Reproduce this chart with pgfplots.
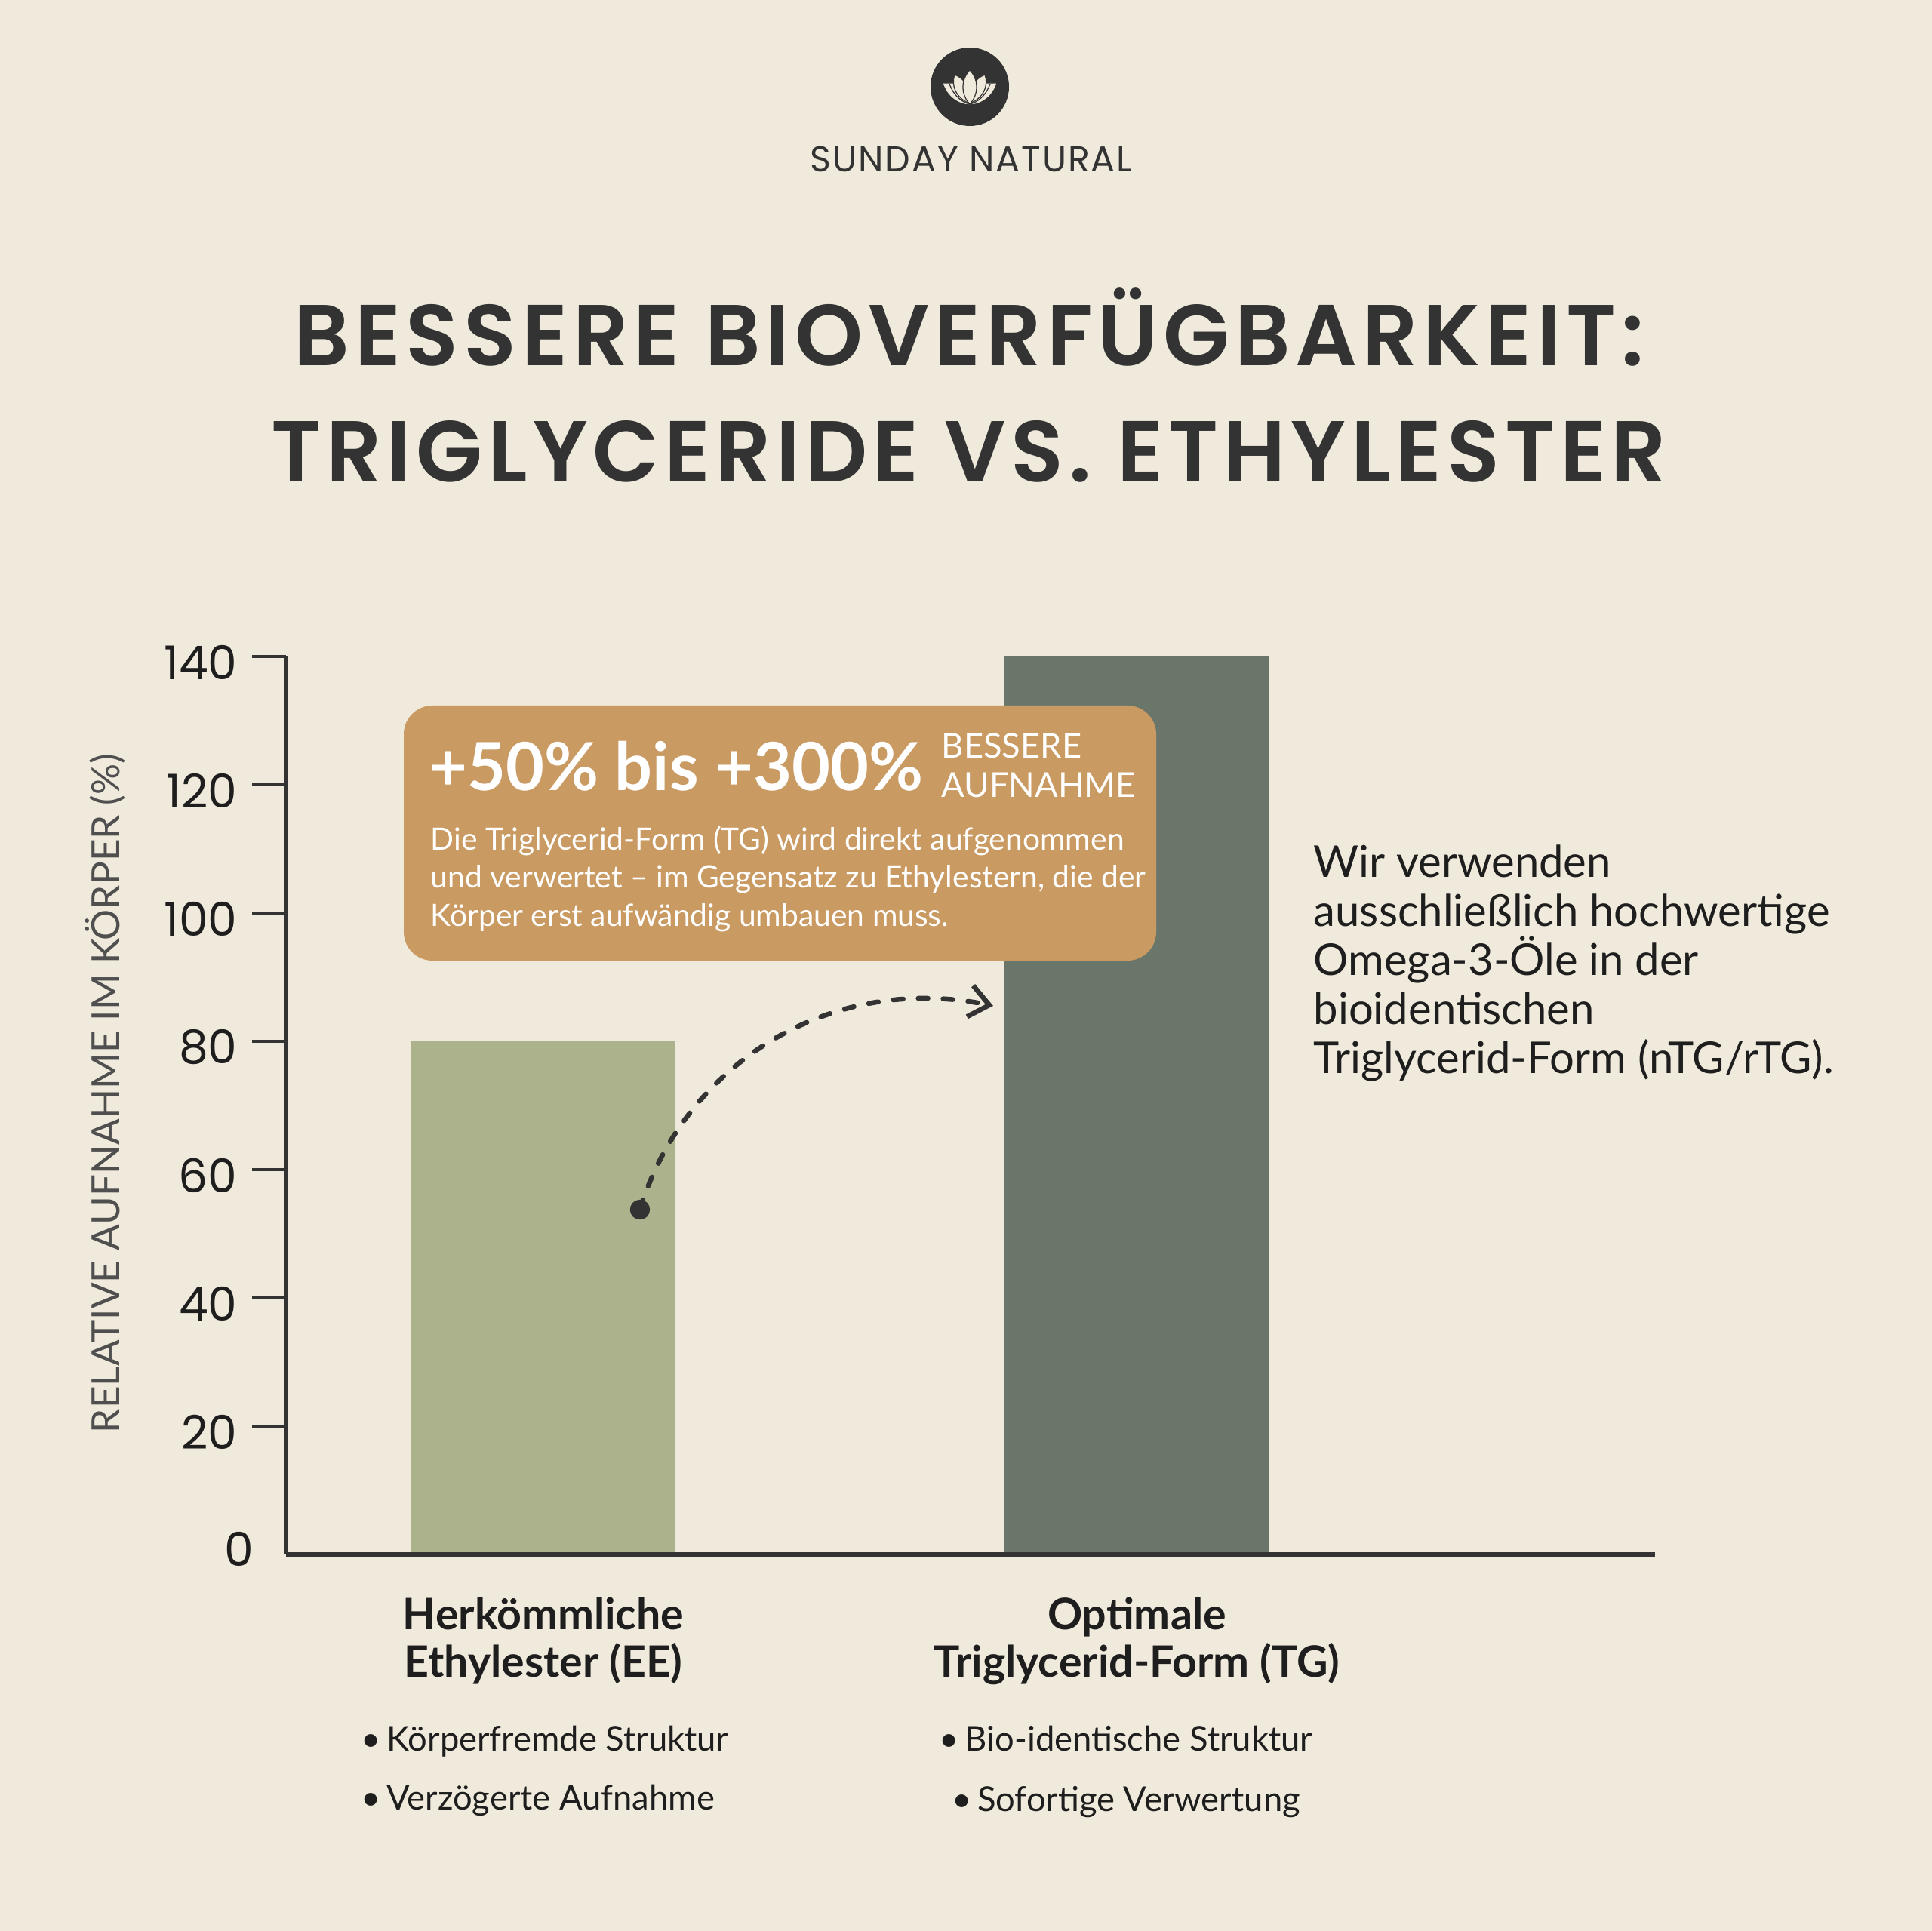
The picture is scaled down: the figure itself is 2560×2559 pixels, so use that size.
\documentclass[border=0pt]{standalone}
\usepackage{fontspec}
\usepackage{pgfplots}
\pgfplotsset{compat=1.18}
\usetikzlibrary{arrows.meta}
\setmainfont{Lato}
\newfontfamily\pop{Poppins}
\newfontfamily\popL[LetterSpace=4]{Poppins}
\newfontfamily\popT[LetterSpace=6]{Poppins SemiBold}

\definecolor{bg}{HTML}{F0EADC}
\definecolor{dark}{HTML}{333333}
\definecolor{txt}{HTML}{1E1E1E}
\definecolor{ee}{HTML}{ABB28C}
\definecolor{tg}{HTML}{6B766B}
\definecolor{callout}{HTML}{C99A62}
\definecolor{ylab}{HTML}{4F4F4F}

\begin{document}
\begin{tikzpicture}
\begin{scope}[x=0.1mm,y=-0.1mm]
\fill[bg] (0,0) rectangle (2560,2559);
\path[use as bounding box] (0,0) rectangle (2560,2559);
% logo
\fill[dark] (1285,115) circle[radius=52];
\begin{scope}[line width=0.35pt]
\filldraw[fill=bg, draw=dark] (1249,110) -- (1321,110) .. controls (1316,128) and (1300,139) .. (1285,139) .. controls (1270,139) and (1254,128) .. (1249,110) -- cycle;
\filldraw[fill=bg, draw=dark] (1285,137) .. controls (1266,130) and (1260,112) .. (1265,99) .. controls (1278,104) and (1286,116) .. (1285,137) -- cycle;
\filldraw[fill=bg, draw=dark] (1285,137) .. controls (1304,130) and (1310,112) .. (1305,99) .. controls (1292,104) and (1284,116) .. (1285,137) -- cycle;
\filldraw[fill=bg, draw=dark] (1285,138) .. controls (1272,124) and (1274,104) .. (1285,93) .. controls (1296,104) and (1298,124) .. (1285,138) -- cycle;
\draw[dark] (1258,111) .. controls (1264,128) and (1276,136) .. (1285,138);
\draw[dark] (1312,111) .. controls (1306,128) and (1294,136) .. (1285,138);
\end{scope}
\node[anchor=base, inner sep=0, font=\popL\fontsize{13.5}{16}\selectfont, text=dark] at (1287,228) {SUNDAY NATURAL};
% title
\node[anchor=base, inner sep=0, font=\popT\fontsize{32.6}{38}\selectfont, text=dark] at (1284,485) {BESSERE BIOVERFÜGBARKEIT:};
\node[anchor=base, inner sep=0, font=\popT\fontsize{32.6}{38}\selectfont, text=dark] at (1284,639) {TRIGLYCERIDE VS. ETHYLESTER};
% y label
\node[rotate=90, inner sep=0, font=\fontsize{14.6}{17}\selectfont, text=ylab] at (139,1449) {RELATIVE AUFNAHME IM KÖRPER (\%)};
\end{scope}

\begin{axis}[
  at={(37.9mm,-206mm)}, anchor=south west,
  scale only axis, width=181.4mm, height=119mm,
  xmin=0.5664, xmax=2.8729, ymin=0, ymax=140,
  axis x line=bottom, axis y line=left,
  axis line style={-, line width=1.85pt, draw=dark},
  axis on top=true,
  clip=false,
  xtick={1,2},
  xticklabels={{Herkömmliche\\Ethylester (EE)},{Optimale\\Triglycerid-Form (TG)}},
  x tick label style={align=center, font=\bfseries\fontsize{16.3}{17.9}\selectfont, text=txt, anchor=north},
  ytick={20,40,...,140},
  extra y ticks={0},
  extra y tick style={y tick style={draw=none}, tick label style={xshift=2.2mm, yshift=1.5mm}},
  tick align=outside,
  major tick length=4.5mm,
  x tick style={draw=none},
  y tick style={line width=1.4pt, draw=dark},
  y tick label style={font=\pop\fontsize{17.5}{20}\selectfont, text=txt, xshift=-0.7mm, yshift=-0.8mm},
  /pgf/number format/assume math mode=true,
]
\addplot[ybar, bar width=35mm, bar shift=0pt, fill=ee, draw=none] coordinates {(1,80)};
\addplot[ybar, bar width=35mm, bar shift=0pt, fill=tg, draw=none] coordinates {(2,140)};
\draw[dark, line width=0.65mm, dash pattern=on 1.3mm off 2mm, line cap=round,
  -{Straight Barb[length=2.6mm,width=4.2mm]}]
  (axis cs:1.1627,53.76) .. controls (axis cs:1.2365,76.35) and (axis cs:1.4832,90.71) .. (axis cs:1.7578,85.53);
\addplot[only marks, mark=*, mark size=1.25mm, mark options={fill=dark, draw=dark}] coordinates {(1.1627,53.76)};
\end{axis}

\begin{scope}[x=0.1mm,y=-0.1mm]
\fill[callout, rounded corners=3.8mm] (535,935) rectangle (1532,1273);
\node[anchor=base west, inner sep=0, text=white, font=\bfseries\fontsize{25}{30}\selectfont] at (568,1048) {+50\% bis +300\%};
\node[anchor=base west, inner sep=0, text=white, font=\fontsize{12.9}{15}\selectfont] at (1247,1005) {BESSERE};
\node[anchor=base west, inner sep=0, text=white, font=\fontsize{12.9}{15}\selectfont] at (1247,1057) {AUFNAHME};
\node[anchor=base west, inner sep=0, text=white, font=\fontsize{11.6}{13}\selectfont] at (570,1127) {Die Triglycerid-Form (TG) wird direkt aufgenommen};
\node[anchor=base west, inner sep=0, text=white, font=\fontsize{11.6}{13}\selectfont] at (570,1177) {und verwertet – im Gegensatz zu Ethylestern, die der};
\node[anchor=base west, inner sep=0, text=white, font=\fontsize{11.6}{13}\selectfont] at (570,1228) {Körper erst aufwändig umbauen muss.};
% right text
\node[anchor=base west, inner sep=0, text=txt, font=\fontsize{16.5}{20}\selectfont] at (1740,1163) {Wir verwenden};
\node[anchor=base west, inner sep=0, text=txt, font=\fontsize{16.5}{20}\selectfont] at (1740,1228) {ausschließlich hochwertige};
\node[anchor=base west, inner sep=0, text=txt, font=\fontsize{16.5}{20}\selectfont] at (1740,1293) {Omega-3-Öle in der};
\node[anchor=base west, inner sep=0, text=txt, font=\fontsize{16.5}{20}\selectfont] at (1740,1358) {bioidentischen};
\node[anchor=base west, inner sep=0, text=txt, font=\fontsize{16.5}{20}\selectfont] at (1740,1423) {Triglycerid-Form (nTG/rTG).};
% bullets
\node[anchor=base west, inner sep=0, text=txt, font=\fontsize{12.9}{15}\selectfont] at (478,2320) {•\,Körperfremde Struktur};
\node[anchor=base west, inner sep=0, text=txt, font=\fontsize{12.9}{15}\selectfont] at (478,2398) {•\,Verzögerte Aufnahme};
\node[anchor=base, inner sep=0, text=txt, font=\fontsize{12.9}{15}\selectfont] at (1492,2320) {•\,Bio-identische Struktur};
\node[anchor=base, inner sep=0, text=txt, font=\fontsize{12.9}{15}\selectfont] at (1492,2400) {•\,Sofortige Verwertung};
\end{scope}
\end{tikzpicture}
\end{document}
